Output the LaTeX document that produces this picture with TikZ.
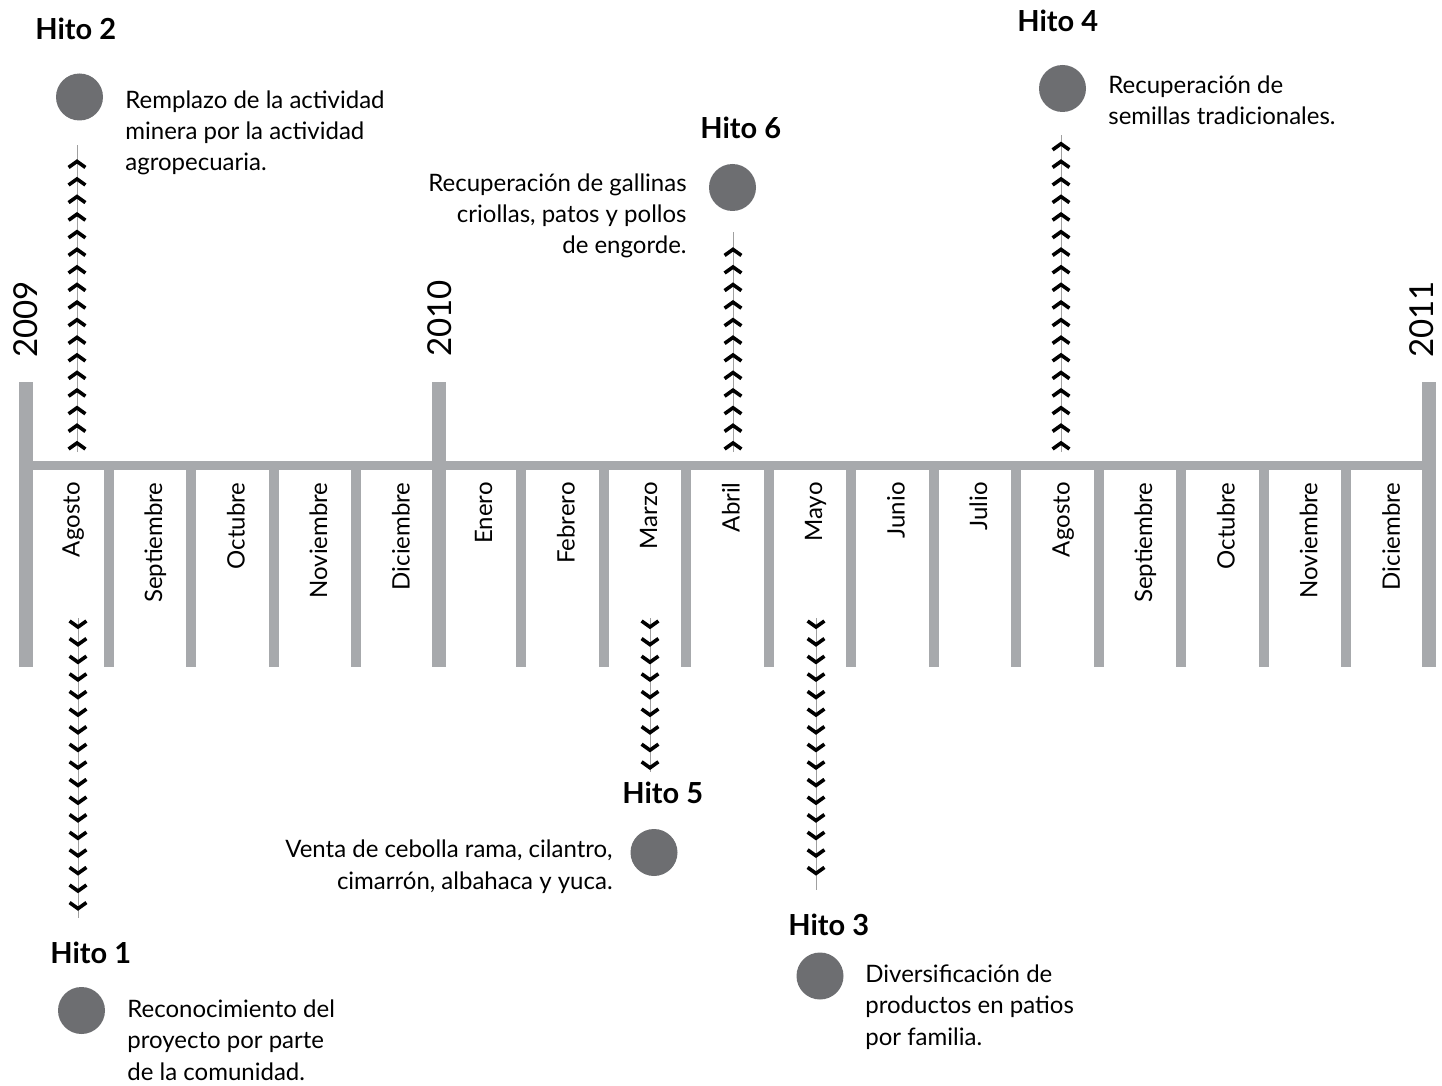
\documentclass[tikz,border=0pt]{standalone}
\usepackage{fontspec}
\setmainfont{Lato}
\usepackage{tikz}
\usetikzlibrary{decorations.markings}

\definecolor{axisgray}{HTML}{A7A9AC}
\definecolor{dotgray}{HTML}{6D6E71}
\definecolor{linegray}{HTML}{A0A0A0}

\begin{document}
\begin{tikzpicture}[x=0.5pt, y=-0.5pt,
  every node/.style={inner sep=0pt, font=\fontsize{12}{15.75}\selectfont},
  month/.style={rotate=90, anchor=base east},
  year/.style={rotate=90, anchor=base west, font=\fontsize{16.5}{18}\selectfont},
  hito/.style={anchor=base west, font=\fontsize{14.5}{17}\selectfont\bfseries},
  dot/.style={circle, fill=dotgray, minimum size=23.5pt},
  desc/.style={anchor=base west, align=left},
  descr/.style={anchor=base east, align=right},
  chevrons/.style={draw=linegray, line width=0.5pt, postaction={decorate, decoration={markings,
    mark=between positions 4.5pt and 1 step 8.8pt with {\draw[black, line width=1.8pt] (-3pt,4.2pt) -- (0,0) -- (-3pt,-4.2pt);}}}}]

\useasboundingbox (0,0) rectangle (1442,1086);

% time axis
\fill[axisgray] (26,461) rectangle (1429,470);
\foreach \k in {1,2,3,4,6,7,8,9,10,11,12,13,14,15,16}
  \fill[axisgray] ({26+82.51*\k-5},465) rectangle ({26+82.51*\k+5},667);
\foreach \k in {0,5,17}
  \fill[axisgray] ({26+82.51*\k-7},382) rectangle ({26+82.51*\k+7},667);

\node[year] (y2009) at (37,358) {2009};
\node[year] (y2010) at (451,357) {2010};
\node[year] (y2011) at (1433,358) {2011};

\foreach \m [count=\k] in {Agosto,Septiembre,Octubre,Noviembre,Diciembre,Enero,Febrero,Marzo,Abril,Mayo,Junio,Julio,Agosto,Septiembre,Octubre,Noviembre,Diciembre}
  \node[month] (m\k) at ({26+82.51*(\k-1)+53.6},482) {\m};

% hitos (text nodes placed at the baseline of their last line)
\node[hito] (h2) at (35,40) {Hito 2};
\node[dot] (d2) at (79.5,97) {};
\node[desc] (t2) at (125,171) {Remplazo de la actividad\\minera por la actividad\\agropecuaria.};
\coordinate (c2a) at (77,452);
\coordinate (c2b) at (77,145);

\node[hito] (h1) at (50,963) {Hito 1};
\node[dot] (d1) at (81.5,1010.5) {};
\node[desc] (t1) at (127,1080) {Reconocimiento del\\proyecto por parte\\de la comunidad.};
\coordinate (c1a) at (78,618);
\coordinate (c1b) at (78,918);

\node[hito] (h6) at (700,139) {Hito 6};
\node[dot] (d6) at (732.5,187.5) {};
\node[descr] (t6) at (687,254) {Recuperación de gallinas\\criollas, patos y pollos\\de engorde.};
\coordinate (c6a) at (733,452);
\coordinate (c6b) at (733,232);

\node[hito] (h4) at (1017,32) {Hito 4};
\node[dot] (d4) at (1062.5,88.5) {};
\node[desc] (t4) at (1108,125) {Recuperación de\\semillas tradicionales.};
\coordinate (c4a) at (1061,452);
\coordinate (c4b) at (1061,135);

\node[hito] (h5) at (622,803) {Hito 5};
\node[dot] (d5) at (654,852.5) {};
\node[descr] (t5) at (613,889) {Venta de cebolla rama, cilantro,\\cimarrón, albahaca y yuca.};
\coordinate (c5a) at (650,618);
\coordinate (c5b) at (650,772);

\node[hito] (h3) at (788,935) {Hito 3};
\node[dot] (d3) at (820,976) {};
\node[desc] (t3) at (865,1045) {Diversificación de\\productos en patios\\por familia.};
\coordinate (c3a) at (816,618);
\coordinate (c3b) at (816,890);

\draw[chevrons] (c2a) -- (c2b);
\draw[chevrons] (c1a) -- (c1b);
\draw[chevrons] (c6a) -- (c6b);
\draw[chevrons] (c4a) -- (c4b);
\draw[chevrons] (c5a) -- (c5b);
\draw[chevrons] (c3a) -- (c3b);

\end{tikzpicture}
\end{document}
